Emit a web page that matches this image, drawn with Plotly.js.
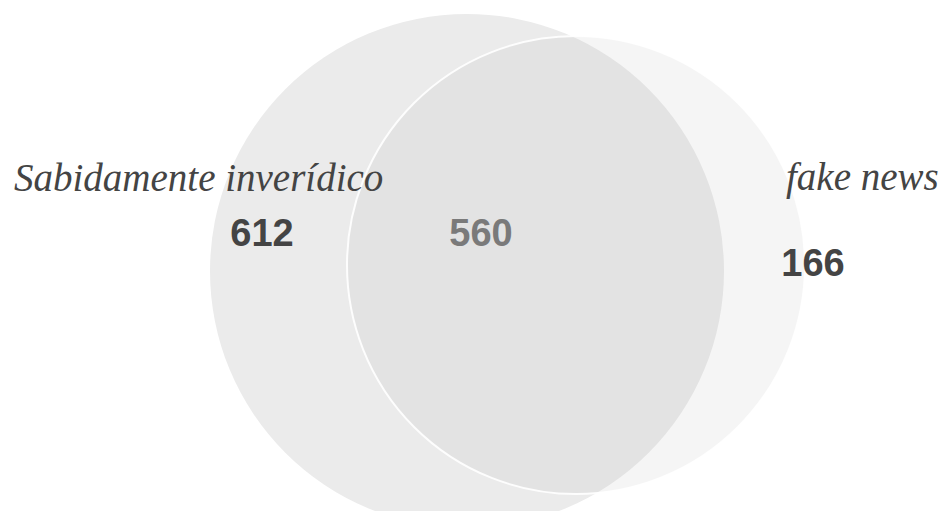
<!DOCTYPE html>
<html>
<head>
<meta charset="utf-8">
<script src="https://cdn.plot.ly/plotly-3.0.1.min.js"></script>
<style>html,body{margin:0;padding:0;background:#fff;}#chart{width:944px;height:511px;}</style>
</head>
<body>
<div id="chart"></div>
<script>
// Data
const setNames = ["Sabidamente inverídico", "fake news"];
const regionLabels = ["Sabidamente inverídico apenas", "Ambos", "fake news apenas"];
const regionCounts = [612, 560, 166];

// Layout geometry (pixel-like axis units)
const circles = [
  {cx: 467, cy: 271, r: 257, fill: "#ebebeb", opacity: 1},
  {cx: 576, cy: 265, r: 229, fill: "rgb(182,182,182)", opacity: 0.14}
];
const regionPos = [[262, 236], [481, 236], [813, 266]];
const regionColors = ["#444444", "#7a7a7a", "#444444"];
const setLabelPos = [[198, 177], [862, 177]];

const shapes = circles.map(c => ({
  type: "circle", xref: "x", yref: "y",
  x0: c.cx - c.r, x1: c.cx + c.r, y0: c.cy - c.r, y1: c.cy + c.r,
  fillcolor: c.fill, opacity: c.opacity, line: {color: "rgba(0,0,0,0)", width: 0}, layer: "below"
}));
// white rim of second circle
shapes.push({
  type: "circle", xref: "x", yref: "y",
  x0: circles[1].cx - circles[1].r, x1: circles[1].cx + circles[1].r,
  y0: circles[1].cy - circles[1].r, y1: circles[1].cy + circles[1].r,
  fillcolor: "rgba(0,0,0,0)", line: {color: "rgba(255,255,255,0.9)", width: 2}, layer: "below"
});

const traces = [{
  type: "scatter", mode: "text",
  x: regionPos.map(p => p[0]), y: regionPos.map(p => p[1]),
  text: regionCounts.map(String),
  customdata: regionLabels,
  textposition: "middle center",
  textfont: {family: "Liberation Sans, Arial, sans-serif", size: 38, color: regionColors, weight: "bold"},
  texttemplate: "<b>%{text}</b>",
  hoverinfo: "skip", showlegend: false
}];

const annotations = setNames.map((n, i) => ({
  x: setLabelPos[i][0], y: setLabelPos[i][1], xref: "x", yref: "y",
  text: "<i>" + n + "</i>", showarrow: false, xanchor: "center", yanchor: "middle",
  font: {family: "Liberation Serif, Times New Roman, serif", size: 39, color: "#444444"}
}));

const layout = {
  width: 944, height: 511,
  margin: {l: 0, r: 0, t: 0, b: 0},
  paper_bgcolor: "#ffffff", plot_bgcolor: "#ffffff",
  xaxis: {range: [0, 944], visible: false, fixedrange: true},
  yaxis: {range: [511, 0], visible: false, fixedrange: true},
  shapes: shapes, annotations: annotations, showlegend: false
};

Plotly.newPlot("chart", traces, layout, {displayModeBar: false, staticPlot: true});
</script>
</body>
</html>
